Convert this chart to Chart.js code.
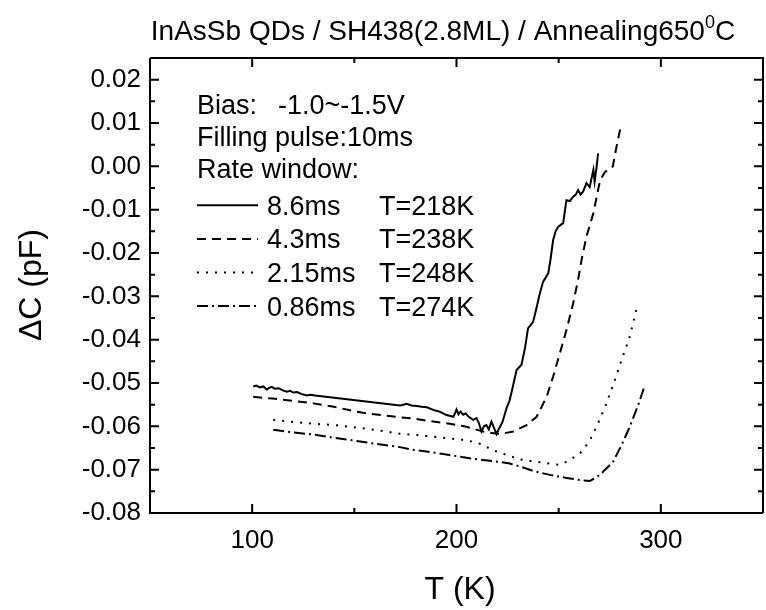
<!DOCTYPE html>
<html>
<head>
<meta charset="utf-8">
<script src="https://cdn.jsdelivr.net/npm/chart.js@4.4.1/dist/chart.umd.min.js"></script>
<style>
  html, body { margin: 0; padding: 0; background: #fff; }
  #wrap { width: 766px; height: 610px; }
</style>
</head>
<body>
<div id="wrap"><canvas id="c" width="766" height="610"></canvas></div>
<script>
const FONT = '"Liberation Sans", Arial, Helvetica, sans-serif';

// Axis ticks
const X_TICKS = [100, 200, 300];
const X_MINOR = [150, 250];
const Y_TICKS = [-0.08, -0.07, -0.06, -0.05, -0.04, -0.03, -0.02, -0.01, 0.00, 0.01, 0.02];
const Y_MINOR = [-0.075, -0.065, -0.055, -0.045, -0.035, -0.025, -0.015, -0.005, 0.005, 0.015, 0.025];

// DLTS spectra: temperature (K) and capacitance transient (pF)
const T_86 = [100.5, 102, 103.8, 105.5, 107.1, 108.5, 109.6, 111, 113, 115, 116.9, 118.5, 120.2, 122, 124, 126.7, 128.5, 130.8,
  172.3, 174, 175.6, 178, 180.5, 183, 185.5, 188.6, 191, 193, 195.1, 197, 198.4, 199.3, 200, 201, 202, 203.3, 204.5, 206,
  208.1, 209.8, 211, 212.2, 213.4, 214.6, 215.8, 217.1, 218.3, 219.6, 220.5, 221.2, 222.5, 224.5, 226, 227.5, 229.4, 231.8,
  233.5, 235, 237.5, 239, 240.8, 242.4, 244.9, 246, 247.3, 248.5, 249.8, 252.2, 253.8, 255.5, 257.1, 258.3, 259.5, 260.7,
  262, 263.6, 265.2, 266.2, 267, 267.6, 268.5, 269.3];
const C_86 = [-0.0508, -0.0506, -0.0510, -0.0508, -0.0515, -0.0511, -0.0509, -0.0513, -0.0512, -0.0517, -0.0520, -0.0518,
  -0.0522, -0.0521, -0.0525, -0.0529, -0.0527, -0.0529,
  -0.0552, -0.0550, -0.0548, -0.0552, -0.0553, -0.0555, -0.0556, -0.0562, -0.0565, -0.0569, -0.0574, -0.0576, -0.0578,
  -0.0570, -0.0561, -0.0572, -0.0566, -0.0573, -0.0570, -0.0578, -0.0585, -0.0581, -0.0593, -0.0612, -0.0600, -0.0597,
  -0.0607, -0.0589, -0.0603, -0.0618, -0.0608, -0.0602, -0.0590, -0.0558, -0.0540, -0.0510, -0.0470, -0.0458, -0.0420,
  -0.0374, -0.0359, -0.0330, -0.0293, -0.0266, -0.0247, -0.0215, -0.0170, -0.0150, -0.0139, -0.0131, -0.0078, -0.0080,
  -0.0070, -0.0066, -0.0055, -0.0065, -0.0058, -0.0039, -0.0048, -0.0025, -0.0008, -0.0035, -0.0004, 0.0030];

const T_43 = [100.5, 110, 120, 129.9, 140, 150, 156, 165, 172.3, 178.8, 188.6, 196.8, 204.9, 213, 221.2, 227.8, 234.3,
  239.2, 244.1, 247.3, 250.6, 253.8, 257.1, 259.5, 261.2, 263.6, 267, 269.6, 270.5, 272.8, 275, 276.5, 278.5, 280.2];
const C_43 = [-0.0532, -0.0536, -0.0541, -0.0547, -0.0555, -0.0565, -0.0570, -0.0575, -0.0579, -0.0582, -0.0589, -0.0594,
  -0.0601, -0.0612, -0.0618, -0.0612, -0.0597, -0.0578, -0.0532, -0.0485, -0.0431, -0.0378, -0.0316, -0.0262, -0.0216,
  -0.0162, -0.0108, -0.0047, -0.0030, -0.0012, -0.0008, 0.0000, 0.0050, 0.0088];

const T_215 = [110.3, 120, 130, 140, 147.8, 160, 172.3, 180.5, 188.6, 196.8, 204.9, 211.4, 217.9, 224.5, 231, 237.6, 244.1,
  250.6, 255.5, 261.2, 265.3, 269.3, 273.4, 277.5, 280.8, 284.8, 288.1];
const C_215 = [-0.0585, -0.0590, -0.0594, -0.0597, -0.0601, -0.0608, -0.0617, -0.0620, -0.0624, -0.0628, -0.0632, -0.0640,
  -0.0655, -0.0666, -0.0676, -0.0681, -0.0685, -0.0689, -0.0678, -0.0659, -0.0632, -0.0593, -0.0547, -0.0493, -0.0447,
  -0.0393, -0.0330];

const T_086 = [110.3, 120, 130, 139.6, 150, 160, 172.3, 177.2, 185.3, 193.5, 201.6, 209.8, 217.9, 226.1, 232.6, 237.5, 245.7,
  253.8, 260.4, 265.3, 268.5, 271.7, 276.6, 280.8, 284.8, 288.9, 292.2];
const C_086 = [-0.0608, -0.0614, -0.0619, -0.0626, -0.0633, -0.0640, -0.0648, -0.0653, -0.0658, -0.0664, -0.0670, -0.0676,
  -0.0680, -0.0686, -0.0695, -0.0703, -0.0712, -0.0719, -0.0724, -0.0726, -0.0718, -0.0705, -0.0682, -0.0643, -0.0601,
  -0.0551, -0.0505];

// Legend text
const RATE_WINDOWS = ['8.6ms', '4.3ms', '2.15ms', '0.86ms'];
const PEAK_TEMPS = ['T=218K', 'T=238K', 'T=248K', 'T=274K'];
const DASHES = [[], [9, 6], [2, 7], [11, 4, 2, 4]];

function pts(xs, ys) { return xs.map((x, i) => ({ x: x, y: ys[i] })); }

const SERIES = [[T_86, C_86], [T_43, C_43], [T_215, C_215], [T_086, C_086]];
const datasets = SERIES.map((s, i) => ({
  label: RATE_WINDOWS[i],
  data: pts(s[0], s[1]),
  showLine: true,
  borderColor: '#000',
  borderWidth: 2,
  borderDash: DASHES[i],
  pointRadius: 0,
  tension: 0,
  fill: false
}));

const decorations = {
  id: 'decorations',
  afterDraw(chart) {
    const ctx = chart.ctx;
    const a = chart.chartArea;
    const xs = chart.scales.x, ys = chart.scales.y;
    ctx.save();
    ctx.strokeStyle = '#000';
    ctx.fillStyle = '#000';
    ctx.lineWidth = 2;
    ctx.setLineDash([]);
    // frame
    ctx.beginPath();
    ctx.moveTo(a.left, a.top); ctx.lineTo(a.left, a.bottom); ctx.lineTo(a.right, a.bottom);
    ctx.moveTo(a.left, a.top); ctx.lineTo(a.right, a.top); ctx.lineTo(a.right, a.bottom);
    ctx.stroke();
    // inward ticks
    const MAJ = 9, MIN = 5;
    ctx.beginPath();
    X_TICKS.forEach(v => { const p = xs.getPixelForValue(v);
      ctx.moveTo(p, a.bottom); ctx.lineTo(p, a.bottom - MAJ); ctx.moveTo(p, a.top); ctx.lineTo(p, a.top + MAJ); });
    X_MINOR.forEach(v => { const p = xs.getPixelForValue(v);
      ctx.moveTo(p, a.bottom); ctx.lineTo(p, a.bottom - MIN); ctx.moveTo(p, a.top); ctx.lineTo(p, a.top + MIN); });
    Y_TICKS.forEach(v => { const p = ys.getPixelForValue(v);
      ctx.moveTo(a.left, p); ctx.lineTo(a.left + MAJ, p); ctx.moveTo(a.right, p); ctx.lineTo(a.right - MAJ, p); });
    Y_MINOR.forEach(v => { const p = ys.getPixelForValue(v);
      ctx.moveTo(a.left, p); ctx.lineTo(a.left + MIN, p); ctx.moveTo(a.right, p); ctx.lineTo(a.right - MIN, p); });
    ctx.stroke();

    // title with superscript degree
    ctx.textBaseline = 'alphabetic';
    ctx.textAlign = 'left';
    const tMain = 'InAsSb QDs / SH438(2.8ML) / Annealing650', tSup = '0', tEnd = 'C';
    ctx.font = '28px ' + FONT;
    const w1 = ctx.measureText(tMain).width, w3 = ctx.measureText(tEnd).width;
    ctx.font = '18px ' + FONT;
    const w2 = ctx.measureText(tSup).width;
    let tx = 443 - (w1 + w2 + w3) / 2;
    ctx.font = '28px ' + FONT; ctx.fillText(tMain, tx, 40); tx += w1;
    ctx.font = '18px ' + FONT; ctx.fillText(tSup, tx, 28); tx += w2;
    ctx.font = '28px ' + FONT; ctx.fillText(tEnd, tx, 40);

    // axis titles
    ctx.font = '32px ' + FONT;
    ctx.textAlign = 'center';
    ctx.textBaseline = 'middle';
    ctx.fillText('T (K)', 460, 590);
    ctx.save();
    ctx.translate(32, 285);
    ctx.rotate(-Math.PI / 2);
    ctx.fillText('\u0394C (pF)', 0, 0);
    ctx.restore();

    // annotation / legend block
    ctx.textAlign = 'left';
    ctx.textBaseline = 'alphabetic';
    ctx.font = '27px ' + FONT;
    const rows = [114, 146, 178, 214.8, 248.4, 282, 315.6];
    ctx.fillText('Bias:', 197, rows[0]);
    ctx.fillText('-1.0~-1.5V', 278, rows[0]);
    ctx.fillText('Filling pulse:10ms', 197, rows[1]);
    ctx.fillText('Rate window:', 197, rows[2]);
    RATE_WINDOWS.forEach((r, i) => {
      const yb = rows[3 + i];
      ctx.fillText(r, 267, yb);
      ctx.fillText(PEAK_TEMPS[i], 379, yb);
      ctx.beginPath();
      ctx.setLineDash(DASHES[i]);
      ctx.lineWidth = 2;
      ctx.moveTo(197, yb - 9.5);
      ctx.lineTo(258, yb - 9.5);
      ctx.stroke();
      ctx.setLineDash([]);
    });
    ctx.restore();
  }
};

new Chart(document.getElementById('c'), {
  type: 'scatter',
  data: { datasets: datasets },
  options: {
    responsive: false,
    animation: false,
    layout: { padding: { top: 58, right: 3, left: 0, bottom: 0 } },
    plugins: { legend: { display: false }, tooltip: { enabled: false }, title: { display: false } },
    scales: {
      x: {
        type: 'linear', min: 50, max: 350,
        afterBuildTicks: s => { s.ticks = X_TICKS.map(v => ({ value: v })); },
        afterFit: s => { s.height = 97; },
        grid: { display: false, drawTicks: false },
        border: { display: false },
        ticks: { color: '#000', padding: 12, maxRotation: 0, font: { family: FONT, size: 26 }, callback: v => String(v) }
      },
      y: {
        type: 'linear', min: -0.08, max: 0.025,
        afterBuildTicks: s => { s.ticks = Y_TICKS.map(v => ({ value: v })); },
        afterFit: s => { s.width = 150; },
        grid: { display: false, drawTicks: false },
        border: { display: false },
        ticks: { color: '#000', padding: 9, font: { family: FONT, size: 26 }, callback: v => Number(v).toFixed(2) }
      }
    }
  },
  plugins: [decorations]
});
</script>
</body>
</html>
